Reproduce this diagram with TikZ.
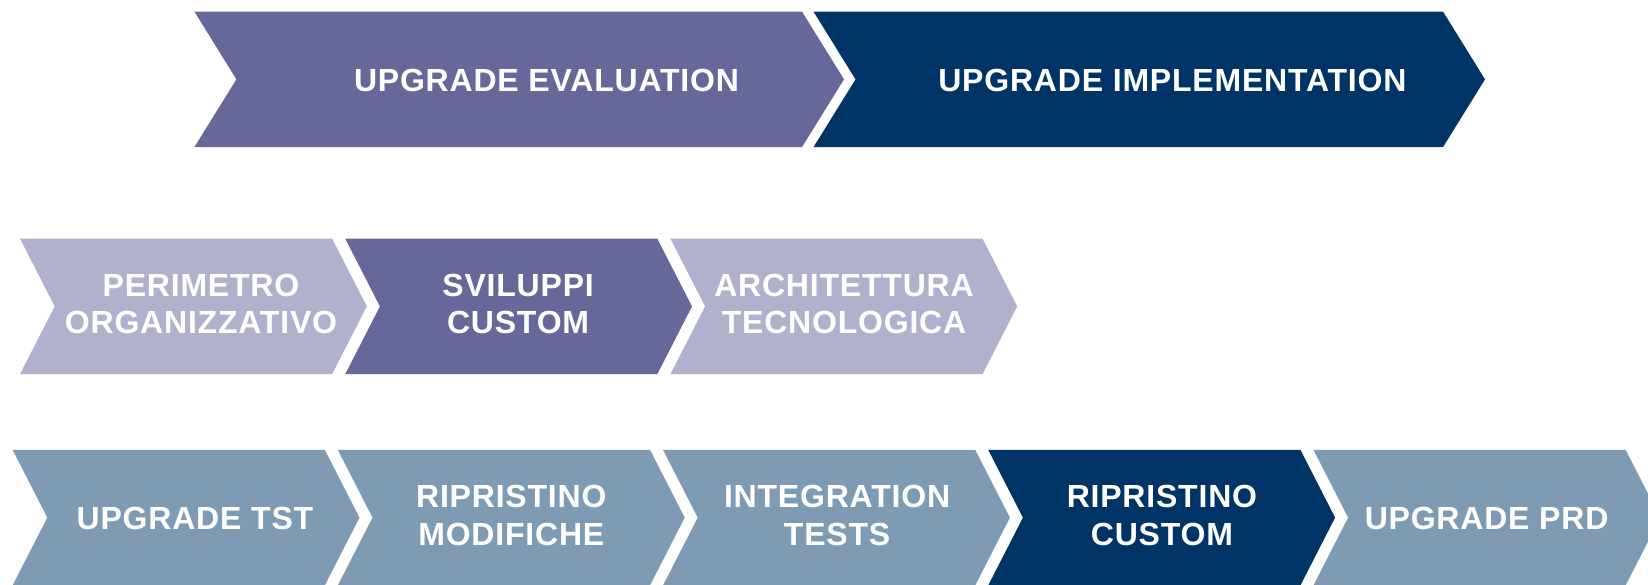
\documentclass[tikz,border=0pt]{standalone}
\usepackage{fontspec}
\setmainfont[LetterSpace=2.5]{Liberation Sans}
\definecolor{cPurple}{HTML}{67689A}
\definecolor{cNavy}{HTML}{003466}
\definecolor{cLav}{HTML}{B1B1CD}
\definecolor{cSteel}{HTML}{7F9AB3}
\newcommand\twoline[2]{\vtop{\halign{\hfil##\hfil\cr#1\cr#2\cr}}}
% #1 left x, #2 top-right x, #3 tip x, #4 top y, #5 bottom y, #6 mid y, #7 colour
\newcommand\chevronshape[7]{%
  \fill[#7] (#1,#4) -- (#2,#4) -- (#3,#6) -- (#2,#5) -- (#1,#5) -- ({#1+#3-#2},#6) -- cycle;}
\begin{document}
\begin{tikzpicture}[x=1pt,y=-1pt,
  lbl/.style={text=white,font=\fontsize{32}{37.5}\selectfont\bfseries,inner sep=0pt,anchor=base}]
\useasboundingbox (0,0) rectangle (1648,584);
% top row
\chevronshape{194.4}{802}{844}{11.6}{147.1}{79.35}{cPurple}
\chevronshape{813.5}{1443}{1485}{11.6}{147.1}{79.35}{cNavy}
\node[lbl] (eval) at (546.5,91) {UPGRADE EVALUATION};
\node[lbl] (impl) at (1172.4,91) {UPGRADE IMPLEMENTATION};
% middle row
\chevronshape{20}{332.1}{366.8}{238.6}{374.2}{306.4}{cLav}
\chevronshape{345.2}{657.3}{692}{238.6}{374.2}{306.4}{cPurple}
\chevronshape{670.4}{982.5}{1017.2}{238.6}{374.2}{306.4}{cLav}
\node[lbl] (perim) at (201,296.3) {\twoline{PERIMETRO}{ORGANIZZATIVO}};
\node[lbl] (svil) at (518.1,296.3) {\twoline{SVILUPPI}{CUSTOM}};
\node[lbl] (arch) at (844,296.3) {\twoline{ARCHITETTURA}{TECNOLOGICA}};
% bottom row
\chevronshape{12.6}{324.8}{359.5}{449.8}{585.4}{517.6}{cSteel}
\chevronshape{337.8}{650}{684.7}{449.8}{585.4}{517.6}{cSteel}
\chevronshape{663}{975.2}{1009.9}{449.8}{585.4}{517.6}{cSteel}
\chevronshape{988.2}{1300.4}{1335.1}{449.8}{585.4}{517.6}{cNavy}
\chevronshape{1313.4}{1625.6}{1660.3}{449.8}{585.4}{517.6}{cSteel}
\node[lbl] (tst) at (195,529.6) {UPGRADE TST};
\node[lbl] (ripmod) at (511.3,507.5) {\twoline{RIPRISTINO}{MODIFICHE}};
\node[lbl] (integ) at (837.1,507.5) {\twoline{INTEGRATION}{TESTS}};
\node[lbl] (ripcus) at (1161.9,507.5) {\twoline{RIPRISTINO}{CUSTOM}};
\node[lbl] (prd) at (1486.6,529.6) {UPGRADE PRD};
\end{tikzpicture}
\end{document}
